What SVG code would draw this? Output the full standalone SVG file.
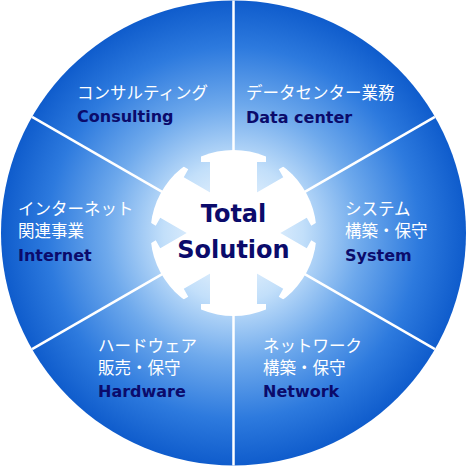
<svg xmlns="http://www.w3.org/2000/svg" width="467" height="466" viewBox="0 0 467 466">
  <defs>
    <radialGradient id="bg" gradientUnits="userSpaceOnUse" cx="233.5" cy="233" r="232.5">
      <stop offset="0" stop-color="#ffffff"/>
      <stop offset="0.3" stop-color="#c2dffa"/>
      <stop offset="0.55" stop-color="#6ea9ec"/>
      <stop offset="0.8" stop-color="#2d7ade"/>
      <stop offset="1" stop-color="#0f5ccc"/>
    </radialGradient>
    <clipPath id="rim">
      <circle cx="233.5" cy="233" r="83"/>
    </clipPath>
    <polygon id="arm" points="-23.5,0 -23.5,-71 -32.5,-71 -32.5,-100 32.5,-100 32.5,-71 23.5,-71 23.5,0"/>
    <style>
      .jp { font-family: "Noto Sans CJK JP", "Noto Sans", sans-serif; font-size: 16.5px; fill: #ffffff; }
      .en { font-family: "DejaVu Sans", "Liberation Sans", sans-serif; font-weight: bold; font-size: 16px; fill: #0b0b6b; }
      .title { font-family: "DejaVu Sans", "Liberation Sans", sans-serif; font-weight: bold; font-size: 24px; fill: #0b0b6b; text-anchor: middle; }
      .div { stroke: #ffffff; stroke-width: 2.5; fill: none; }
    </style>
  </defs>

  <g id="background">
    <circle cx="233.5" cy="233" r="232.5" fill="url(#bg)"/>
  </g>

  <g id="connectors">
    <line class="div" x1="233.5" y1="0.5" x2="233.5" y2="160"/>
    <line class="div" x1="233.5" y1="306" x2="233.5" y2="465.5"/>
    <line class="div" x1="32.1" y1="116.8" x2="170" y2="196.4"/>
    <line class="div" x1="434.9" y1="116.8" x2="297" y2="196.4"/>
    <line class="div" x1="32.1" y1="349.2" x2="170" y2="269.6"/>
    <line class="div" x1="434.9" y1="349.2" x2="297" y2="269.6"/>
  </g>

  <g id="center">
    <g clip-path="url(#rim)" fill="#ffffff">
      <g transform="translate(233.5 233)">
        <use href="#arm"/>
        <use href="#arm" transform="rotate(60)"/>
        <use href="#arm" transform="rotate(120)"/>
        <use href="#arm" transform="rotate(180)"/>
        <use href="#arm" transform="rotate(240)"/>
        <use href="#arm" transform="rotate(300)"/>
      </g>
    </g>
    <text class="title" x="233.5" y="222">Total</text>
    <text class="title" x="233.5" y="258">Solution</text>
  </g>

  <g id="consulting">
    <text class="jp" x="77" y="99">コンサルティング</text>
    <text class="en" x="77" y="122">Consulting</text>
  </g>
  <g id="datacenter">
    <text class="jp" x="246" y="99">データセンター業務</text>
    <text class="en" x="246" y="123">Data center</text>
  </g>
  <g id="internet">
    <text class="jp" x="18" y="215">インターネット</text>
    <text class="jp" x="18" y="237">関連事業</text>
    <text class="en" x="18" y="261">Internet</text>
  </g>
  <g id="system">
    <text class="jp" x="345" y="215">システム</text>
    <text class="jp" x="345" y="237">構築・保守</text>
    <text class="en" x="345" y="261">System</text>
  </g>
  <g id="hardware">
    <text class="jp" x="98" y="352">ハードウェア</text>
    <text class="jp" x="98" y="374">販売・保守</text>
    <text class="en" x="98" y="397">Hardware</text>
  </g>
  <g id="network">
    <text class="jp" x="263" y="352">ネットワーク</text>
    <text class="jp" x="263" y="374">構築・保守</text>
    <text class="en" x="263" y="397">Network</text>
  </g>
</svg>
